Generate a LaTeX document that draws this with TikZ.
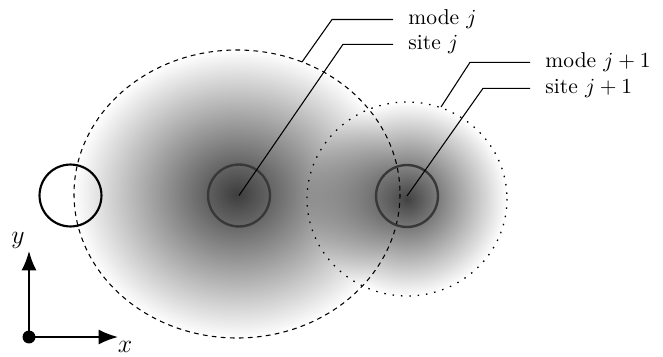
\documentclass[tikz,border=0pt]{standalone}
\usetikzlibrary{fadings,arrows.meta}
\tikzfading[name=modefade, inner color=transparent!0, outer color=transparent!100]
\begin{document}
\begin{tikzpicture}[x=0.465pt,y=-0.465pt,
  lead/.style={line width=0.5pt},
  lab/.style={anchor=west, inner xsep=7pt, inner ysep=0pt},
  sitec/.style={circle, draw=black!78, line width=1.1pt, minimum size=28.8pt, inner sep=0pt},
  ax/.style={line width=0.9pt, -{Latex[length=9pt,width=7pt]}},
  modedash/.style={line width=0.5pt, dash pattern=on 2.2pt off 2pt},
  modedot/.style={line width=0.6pt, dash pattern=on 0.7pt off 3.2pt}]
\useasboundingbox (0,0) rectangle (663,356);
% mode shadings
\fill[black, fill opacity=0.76, path fading=modefade] (237,194) ellipse [x radius=163, y radius=144];
\fill[black, fill opacity=0.74, path fading=modefade] (407,199) ellipse [x radius=100, y radius=97];
% mode outlines
\draw[modedash] (237,194) ellipse [x radius=163, y radius=144];
\draw[modedot] (407,199) ellipse [x radius=100, y radius=97];
% sites
\node[sitec, draw=black, line width=1pt] (left) at (70.5,195.5) {};
\node[sitec] (sj) at (239,195.5) {};
\node[sitec] (sj1) at (407,196) {};
% labels
\node[lab] (lmj) at (393,19.5) {mode $j$};
\node[lab] (lsj) at (393,44.3) {site $j$};
\node[lab] (lmj1) at (530,62.3) {mode $j+1$};
\node[lab] (lsj1) at (530,88.3) {site $j+1$};
% leader points
\coordinate (mj) at (302,62);
\coordinate (mj1) at (441,107);
\coordinate (bmj) at (332,19.5);
\coordinate (bsj) at (343,44.3);
\coordinate (bmj1) at (470,62.3);
\coordinate (bsj1) at (483,88.3);
\draw[lead] (mj) -- (bmj) -- (lmj.west);
\draw[lead] (sj.center) -- (bsj) -- (lsj.west);
\draw[lead] (mj1) -- (bmj1) -- (lmj1.west);
\draw[lead] (sj1.center) -- (bsj1) -- (lsj1.west);
% axes
\node[circle, fill, inner sep=0pt, minimum size=6pt] (o) at (29,337) {};
\coordinate (ytip) at (29,251);
\coordinate (xtip) at (118,337);
\draw[ax] (o.center) -- (ytip);
\draw[ax] (o.center) -- (xtip);
\node[font=\large] (ylab) at (18,240) {$y$};
\node[font=\large] (xlab) at (125,347) {$x$};
\end{tikzpicture}
\end{document}
